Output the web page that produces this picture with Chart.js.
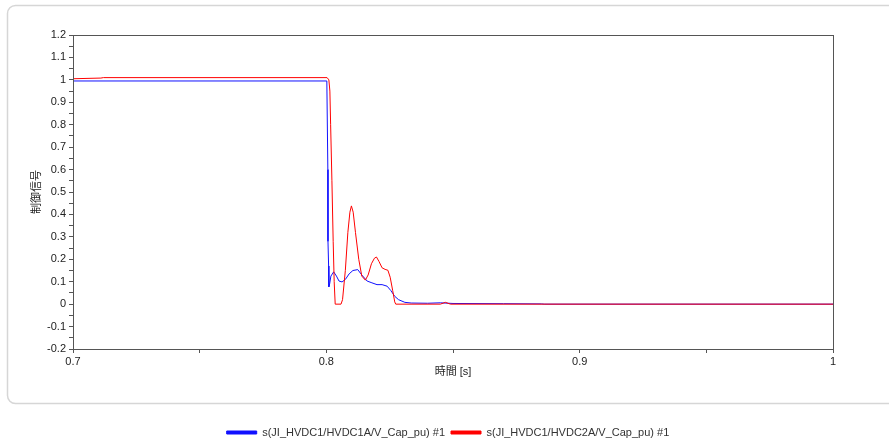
<!DOCTYPE html>
<html>
<head>
<meta charset="utf-8">
<script src="https://cdn.jsdelivr.net/npm/chart.js@4/dist/chart.umd.min.js"></script>
<style>
  html, body { margin: 0; padding: 0; background: #fff; overflow: hidden; }
  #wrap { position: relative; width: 889px; height: 448px; }
</style>
</head>
<body>
<div id="wrap"><canvas id="c"></canvas></div>
<script>
// time [s] / control signal samples
const timeBlue = [0.7, 0.8002, 0.8006, 0.80065, 0.8009, 0.8010, 0.8013, 0.8018, 0.8029, 0.8040,
  0.8050, 0.8062, 0.8075, 0.8090, 0.8105, 0.8124, 0.8140, 0.8161, 0.8180, 0.8200, 0.8220, 0.8240,
  0.8255, 0.8270, 0.8285, 0.8310, 0.8335, 0.8400, 0.8450, 0.8500, 0.8700, 0.8850, 0.8860, 1.0];
const valueBlue = [0.995, 0.995, 0.60, 0.28, 0.17, 0.077, 0.09, 0.125, 0.144, 0.125,
  0.103, 0.099, 0.11, 0.135, 0.15, 0.154, 0.13, 0.103, 0.095, 0.087, 0.087, 0.080,
  0.060, 0.035, 0.020, 0.008, 0.005, 0.004, 0.006, 0.003, 0.002, 0.001, 0, 0];

const timeRed = [0.7, 0.711, 0.712, 0.8003, 0.8010, 0.8014, 0.8017, 0.8022, 0.8027, 0.8031, 0.8035,
  0.8058, 0.8064, 0.8075, 0.8085, 0.8093, 0.8099, 0.8106, 0.8115, 0.8128, 0.8140, 0.8154, 0.8165,
  0.8178, 0.8190, 0.8198, 0.8208, 0.8220, 0.8232, 0.8243, 0.8252, 0.8262, 0.8270, 0.8274,
  0.845, 0.847, 0.849, 1.0];
const valueRed = [1.005, 1.008, 1.01, 1.01, 1.0, 0.95, 0.80, 0.55, 0.28, 0.10, 0.0,
  0.0, 0.02, 0.15, 0.32, 0.41, 0.438, 0.41, 0.32, 0.20, 0.125, 0.107, 0.13,
  0.18, 0.205, 0.21, 0.19, 0.162, 0.155, 0.151, 0.12, 0.06, 0.01, 0.0,
  0.0, 0.008, 0.0, 0.0];

const seriesNames = ['s(JI_HVDC1/HVDC1A/V_Cap_pu) #1', 's(JI_HVDC1/HVDC2A/V_Cap_pu) #1'];
const xTickLabels = [0.7, 0.8, 0.9, 1];
const yTitle = '制御信号';
const xTitle = '時間 [s]';

const FONT = 'Arial, "Liberation Sans", "Noto Sans CJK JP", sans-serif';
const NARROW = '"Liberation Sans Narrow", "Arial Narrow", Arial, sans-serif';

const toXY = (xs, ys) => xs.map((x, i) => ({ x, y: ys[i] }));

// rounded panel behind the chart + frame round the plot area
const frame = {
  id: 'frame',
  beforeDraw(chart) {
    const ctx = chart.ctx;
    ctx.save();
    ctx.strokeStyle = '#d6d6d6';
    ctx.lineWidth = 1.5;
    ctx.beginPath();
    ctx.roundRect(7.5, 5.5, 900, 398, 8);
    ctx.stroke();
    ctx.restore();
  },
  afterDraw(chart) {
    const { ctx, chartArea: a } = chart;
    ctx.save();
    ctx.strokeStyle = '#555';
    ctx.lineWidth = 1;
    ctx.strokeRect(a.left + 0.5, a.top + 0.5, a.right - a.left, a.bottom - a.top);
    ctx.restore();
  },
};

new Chart(document.getElementById('c'), {
  type: 'line',
  data: {
    datasets: [
      { label: seriesNames[0], data: toXY(timeBlue, valueBlue), borderColor: '#1010ff', backgroundColor: '#1010ff', order: 1 },
      { label: seriesNames[1], data: toXY(timeRed, valueRed), borderColor: '#ff0000', backgroundColor: '#ff0000', order: 0 },
    ],
  },
  options: {
    responsive: true,
    maintainAspectRatio: false,
    animation: false,
    events: [],
    elements: { point: { radius: 0 }, line: { borderWidth: 1, tension: 0 } },
    layout: { padding: { top: 35, right: 0, left: 7, bottom: 0 } },
    plugins: {
      tooltip: { enabled: false },
      legend: {
        position: 'bottom',
        labels: {
          color: '#333',
          font: { family: FONT, size: 11 },
          boxWidth: 30,
          boxHeight: 3,
          padding: 6,
          sort: (a, b) => a.datasetIndex - b.datasetIndex,
        },
      },
    },
    scales: {
      x: {
        type: 'linear',
        min: 0.7,
        max: 1.0,
        afterFit: (s) => { s.height = 72; },
        ticks: {
          stepSize: 0.05,
          autoSkip: false,
          maxRotation: 0,
          padding: 2,
          color: '#222',
          font: { family: NARROW, size: 11 },
          callback: (v) => {
            const hit = xTickLabels.find((t) => Math.abs(t - v) < 1e-6);
            return hit === undefined ? '' : String(hit);
          },
        },
        grid: { drawOnChartArea: false, tickLength: 4, color: '#555' },
        border: { color: '#555' },
        title: { display: true, text: xTitle, color: '#222', font: { family: FONT, size: 11 }, padding: { top: 0, bottom: 42 } },
      },
      y: {
        min: -0.2,
        max: 1.2,
        afterFit: (s) => { s.width = 66; },
        ticks: {
          stepSize: 0.05,
          autoSkip: false,
          padding: 3,
          color: '#222',
          font: { family: FONT, size: 11 },
          callback: (v) => {
            const k = Math.round(v * 100);
            if (k % 10 !== 0) return '';
            return String(Math.round(v * 10) / 10);
          },
        },
        grid: { drawOnChartArea: false, tickLength: 4, color: '#555' },
        border: { color: '#555' },
        title: { display: true, text: yTitle, color: '#222', font: { family: FONT, size: 11 }, padding: { top: 23, bottom: 0 } },
      },
      // empty right-hand axis: only reserves the margin right of the plot
      yRight: {
        position: 'right',
        min: -0.2,
        max: 1.2,
        afterFit: (s) => { s.width = 56; },
        ticks: { display: false },
        grid: { display: false },
        border: { display: false },
      },
    },
  },
  plugins: [frame],
});
</script>
</body>
</html>
